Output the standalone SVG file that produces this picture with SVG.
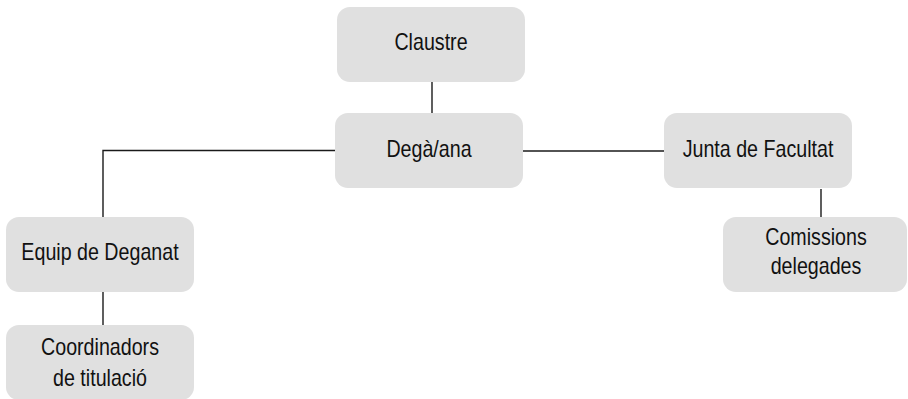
<svg xmlns="http://www.w3.org/2000/svg" width="908" height="399" viewBox="0 0 908 399">
  <style>
    .box { fill: #e0e0e0; }
    .lbl { font-family: "Liberation Sans", Arial, sans-serif; font-size: 23px; fill: #111; text-anchor: middle; }
    .link { stroke: #1a1a1a; stroke-width: 1.4; fill: none; }
  </style>
  <rect width="908" height="399" fill="#ffffff"/>

  <g id="connectors">
    <line class="link" x1="432" y1="82" x2="432" y2="113"/>
    <polyline class="link" points="335,150.5 103,150.5 103,217"/>
    <line class="link" x1="103" y1="292" x2="103" y2="325"/>
    <line class="link" x1="523" y1="151" x2="664" y2="151"/>
    <line class="link" x1="821" y1="189" x2="821" y2="217"/>
  </g>

  <!-- labels use a condensed horizontal scale -->
  <g id="claustre">
    <rect class="box" x="337" y="7" width="188" height="75" rx="13"/>
    <text class="lbl" transform="translate(431 50) scale(0.855 1)">Claustre</text>
  </g>

  <g id="dega">
    <rect class="box" x="335" y="113" width="188" height="75" rx="13"/>
    <text class="lbl" transform="translate(429 157) scale(0.855 1)">Degà/ana</text>
  </g>

  <g id="junta">
    <rect class="box" x="664" y="113" width="188" height="75" rx="13"/>
    <text class="lbl" transform="translate(758 157) scale(0.855 1)">Junta de Facultat</text>
  </g>

  <g id="comissions">
    <rect class="box" x="723" y="217" width="184" height="75" rx="13"/>
    <text class="lbl" transform="translate(816 245) scale(0.855 1)">Comissions</text>
    <text class="lbl" transform="translate(816 274) scale(0.855 1)">delegades</text>
  </g>

  <g id="equip">
    <rect class="box" x="6" y="217" width="188" height="75" rx="13"/>
    <text class="lbl" transform="translate(100 260) scale(0.855 1)">Equip de Deganat</text>
  </g>

  <g id="coordinadors">
    <rect class="box" x="6" y="325" width="188" height="75" rx="13"/>
    <text class="lbl" transform="translate(100 355) scale(0.855 1)">Coordinadors</text>
    <text class="lbl" transform="translate(100 386) scale(0.855 1)">de titulació</text>
  </g>
</svg>
